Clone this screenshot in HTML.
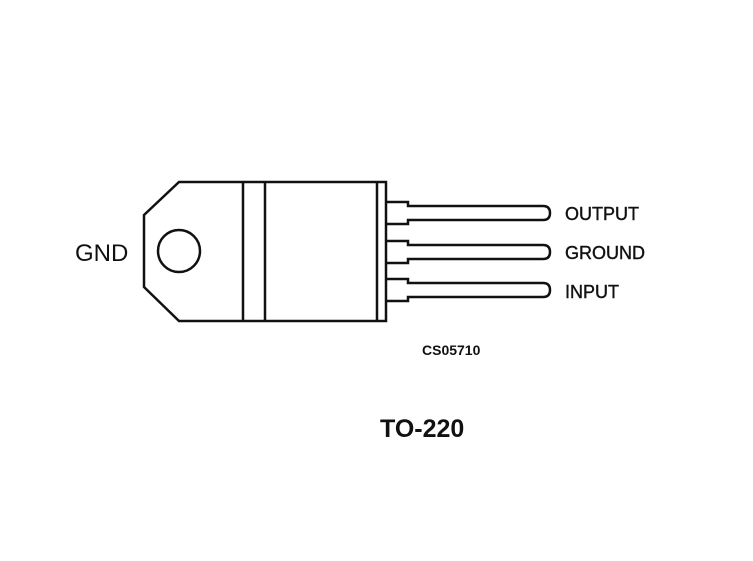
<!DOCTYPE html>
<html><head><style>
html,body{margin:0;padding:0;background:#fff;}
svg{display:block;}
text{font-family:"Liberation Sans",sans-serif;fill:#111;}
</style></head><body>
<svg width="753" height="561" viewBox="0 0 753 561" xmlns="http://www.w3.org/2000/svg">
<g fill="none" stroke="#111" stroke-width="2.5">
<polygon points="179,182 386,182 386,321 179,321 144,287 144,215"/>
<line x1="243" y1="182" x2="243" y2="321"/>
<line x1="265" y1="182" x2="265" y2="321"/>
<line x1="377" y1="182" x2="377" y2="321"/>
<circle cx="179" cy="251" r="21"/>
<path d="M386,202 H408 V206 H543 Q550,206 550,213 Q550,220 543,220 H408 V224 H386"/>
<path d="M386,241 H408 V245 H543 Q550,245 550,252 Q550,259 543,259 H408 V263 H386"/>
<path d="M386,279 H408 V283 H543 Q550,283 550,290 Q550,297 543,297 H408 V301 H386"/>
</g>
<g style="stroke:#111;stroke-width:0.4px">
<text x="565" y="220" font-size="18">OUTPUT</text>
<text x="565" y="259" font-size="18">GROUND</text>
<text x="565" y="298" font-size="18">INPUT</text>
</g>
<text x="75" y="261" font-size="24">GND</text>
<text x="422" y="355" font-size="14" font-weight="bold">CS05710</text>
<text x="380" y="437" font-size="25" font-weight="bold">TO-220</text>
</svg>
</body></html>
